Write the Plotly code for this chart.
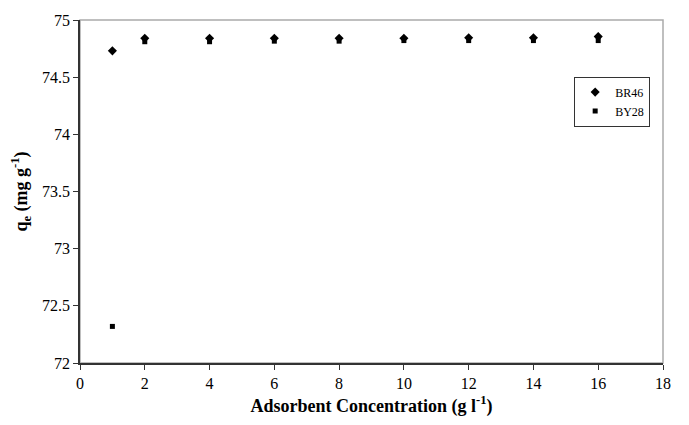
import plotly.graph_objects as go

conc = [1, 2, 4, 6, 8, 10, 12, 14, 16]
br46 = [74.73, 74.84, 74.84, 74.84, 74.84, 74.84, 74.845, 74.845, 74.855]
by28 = [72.32, 74.81, 74.81, 74.815, 74.815, 74.82, 74.82, 74.82, 74.82]

font_fam = "Times New Roman, Liberation Serif, DejaVu Serif, serif"

fig = go.Figure()
fig.add_trace(go.Scatter(x=conc, y=br46, mode="markers", name="BR46",
                         marker=dict(symbol="diamond", size=7, color="black")))
fig.add_trace(go.Scatter(x=conc, y=by28, mode="markers", name="BY28",
                         marker=dict(symbol="square", size=5, color="black")))

fig.update_layout(
    width=689, height=425,
    margin=dict(l=80, r=26, t=17, b=53),
    plot_bgcolor="white", paper_bgcolor="white",
    font=dict(family=font_fam, size=15, color="black"),
    showlegend=True,
    legend=dict(x=0.978, y=0.835, xanchor="right", yanchor="top",
                bordercolor="#333", borderwidth=1, bgcolor="white",
                font=dict(size=12, family=font_fam), tracegroupgap=0,
                itemwidth=30),
    xaxis=dict(range=[0, 18], dtick=2, showgrid=False, zeroline=False,
               showline=True, linecolor="#333", linewidth=1.5,
               ticks="outside", ticklen=5, tickcolor="#333",
               tickfont=dict(size=16),
               title=dict(text="<b>Adsorbent Concentration (g l<sup>-1</sup>)</b>",
                          font=dict(size=18), standoff=8)),
    yaxis=dict(range=[72, 75], dtick=0.5, showgrid=False, zeroline=False,
               showline=True, linecolor="#333", linewidth=1.5,
               ticks="outside", ticklen=5, tickcolor="#333",
               tickfont=dict(size=16),
               title=dict(text="<b>q<sub>e</sub> (mg g<sup>-1</sup>)</b>",
                          font=dict(size=18), standoff=10)),
    shapes=[dict(type="rect", xref="paper", yref="paper", x0=0, y0=0, x1=1, y1=1,
                 line=dict(color="#aaaaaa", width=1.5), layer="below")],
)

fig.write_html("out.html")
